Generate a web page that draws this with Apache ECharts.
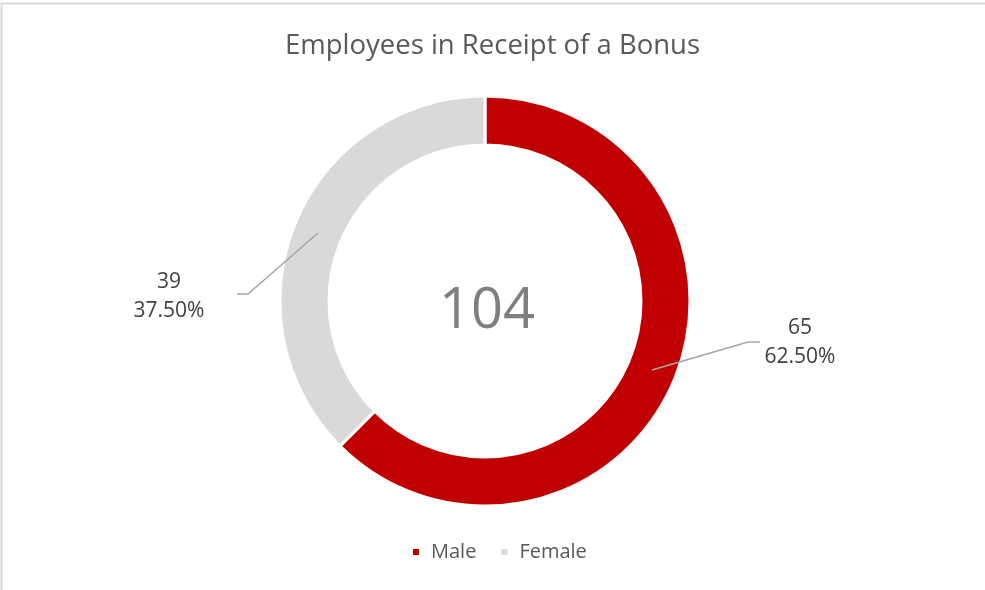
<!DOCTYPE html>
<html>
<head>
<meta charset="utf-8">
<script src="https://cdn.jsdelivr.net/npm/echarts@6/dist/echarts.min.js"></script>
<style>html,body{margin:0;padding:0;background:#fff;}#c{width:985px;height:590px;}</style>
</head>
<body>
<div id="c"></div>
<script>
const categories = ['Male', 'Female'];
const values = [65, 39];
const colors = ['#c00000', '#d9d9d9'];
const titleText = 'Employees in Receipt of a Bonus';

const total = values.reduce((a, b) => a + b, 0);
const FONT = '"Open Sans"';
const chart = echarts.init(document.getElementById('c'));

const labelPos = [
  { x: 800, y: 343, line: [[652, 370], [748, 342], [760, 342]] },
  { x: 169, y: 297, line: [[318, 233], [248, 294], [237, 294]] }
];

chart.setOption({
  animation: false,
  backgroundColor: '#fff',
  title: {
    text: titleText,
    left: 'center',
    top: 27,
    textStyle: { fontFamily: FONT, fontWeight: 400, fontSize: 27.5, color: '#595959' }
  },
  legend: {
    data: categories,
    bottom: 23,
    left: 406,
    icon: 'rect',
    itemWidth: 8,
    itemHeight: 8,
    itemGap: 23,
    textStyle: { fontFamily: FONT, fontSize: 20, color: '#595959', padding: [0, 0, 0, 6] }
  },
  graphic: [
    { type: 'rect', silent: true, z: 0, shape: { x: 1.5, y: 3.5, width: 1100, height: 700 },
      style: { fill: 'none', stroke: '#d9d9d9', lineWidth: 2 } },
    { type: 'text', left: 439, top: 284, silent: true,
      style: { text: String(total), fontFamily: FONT, fontSize: 56, fill: '#7f7f7f' } }
  ].concat(labelPos.map(p => ({
    type: 'polyline', silent: true, z: 100,
    shape: { points: p.line },
    style: { stroke: '#a6a6a6', lineWidth: 1.5, fill: 'none' }
  }))),
  series: [{
    type: 'pie',
    center: [485, 301],
    radius: [156, 205],
    startAngle: 90,
    clockwise: true,
    data: categories.map((c, i) => ({ name: c, value: values[i], itemStyle: { color: colors[i] } })),
    itemStyle: { borderColor: '#fff', borderWidth: 3 },
    label: {
      show: true,
      formatter: p => p.value + '\n' + p.percent.toFixed(2) + '%',
      fontFamily: FONT,
      fontSize: 21,
      lineHeight: 29,
      color: '#404040',
      align: 'center',
      verticalAlign: 'middle'
    },
    labelLine: { show: false },
    labelLayout: params => {
      const p = labelPos[params.dataIndex];
      return { x: p.x, y: p.y, align: 'center', verticalAlign: 'middle' };
    },
    emphasis: { disabled: true }
  }]
});
</script>
</body>
</html>
